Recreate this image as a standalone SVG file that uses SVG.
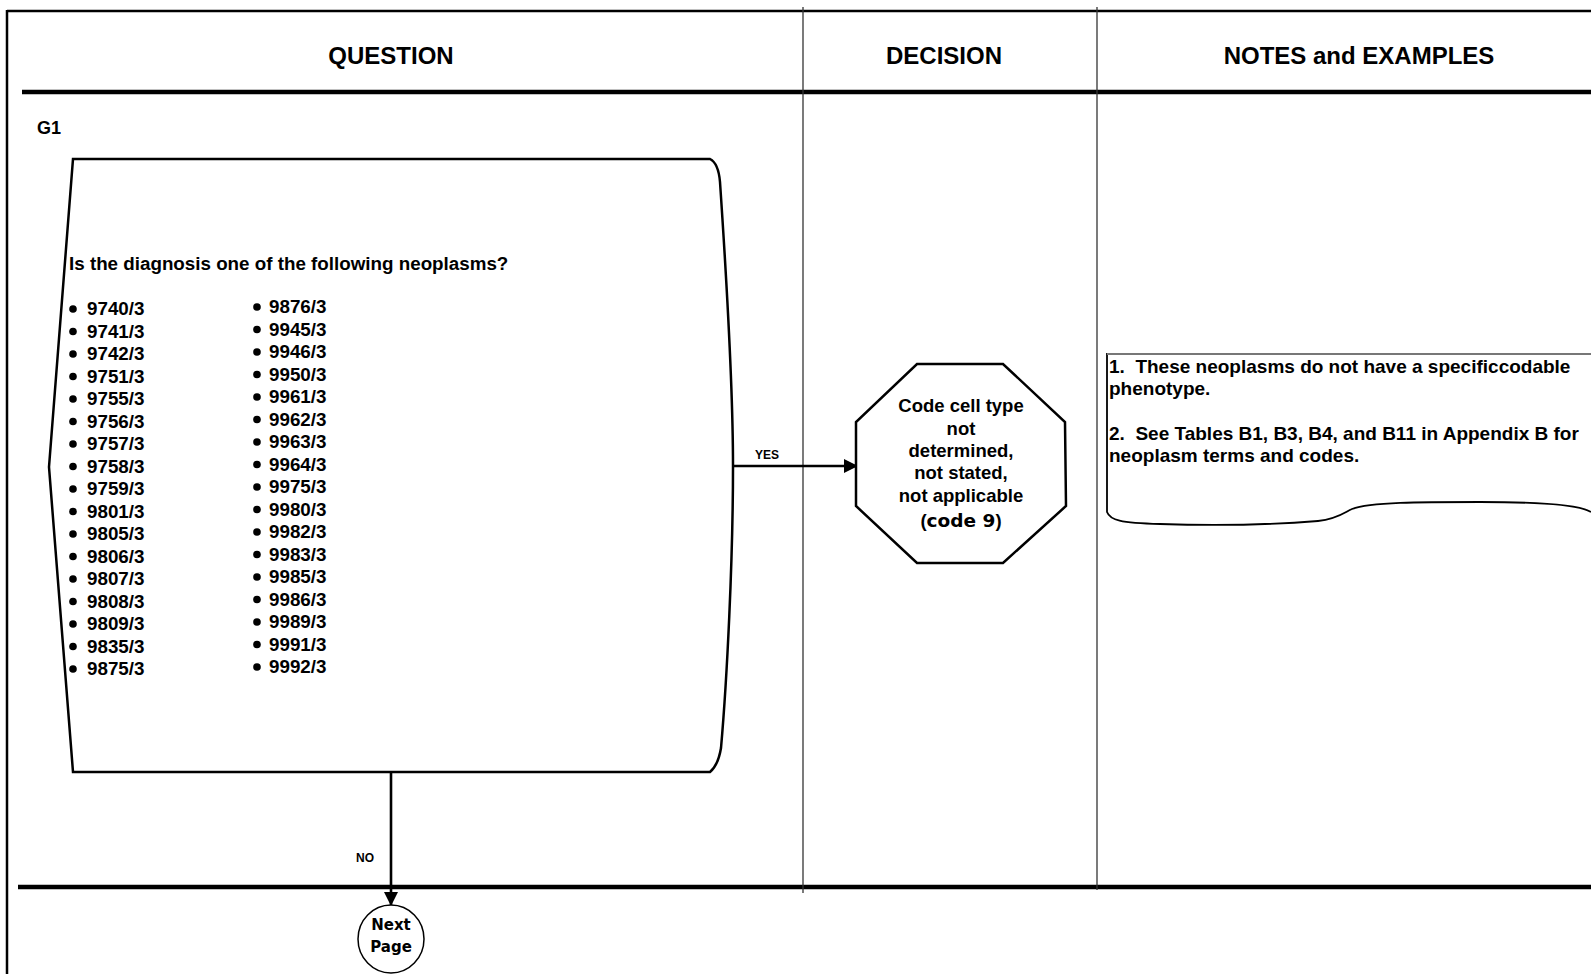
<svg xmlns="http://www.w3.org/2000/svg" width="1591" height="974" viewBox="0 0 1591 974">
<defs>
<style>
.t{font-family:"Liberation Sans",Arial,sans-serif;font-weight:bold;fill:#000}
.h{font-size:24px;text-anchor:middle}
.l{font-size:18.8px}
.o{font-size:18.5px;text-anchor:middle}
.n{font-size:19px}
.s{font-size:12px;text-anchor:middle}
.k{font-family:"DejaVu Sans",sans-serif;font-weight:bold;fill:#000}
.sh{fill:#fff;stroke:#000;stroke-width:2.5}
.div{stroke:#333;stroke-width:1.3;fill:none}
.cn{stroke:#000;stroke-width:2.6;fill:none}
</style>
<marker id="ah" viewBox="0 0 14 14" refX="14" refY="7" markerWidth="14" markerHeight="14" markerUnits="userSpaceOnUse" orient="auto">
<path d="M0,0 L14,7 L0,14 Z" fill="#000"/>
</marker>
</defs>
<rect width="1591" height="974" fill="#fff"/>
<g id="frame">
<line x1="7" y1="11" x2="1591" y2="11" stroke="#000" stroke-width="2.5"/>
<line x1="7" y1="10" x2="7" y2="974" stroke="#000" stroke-width="2.5"/>
<line x1="22" y1="92" x2="1591" y2="92" stroke="#000" stroke-width="4.5"/>
<line x1="18" y1="887" x2="1591" y2="887" stroke="#000" stroke-width="4.5"/>
<line class="div" x1="803" y1="7" x2="803" y2="893"/>
<line class="div" x1="1097" y1="7" x2="1097" y2="890"/>
<text class="t h" x="391" y="64">QUESTION</text>
<text class="t h" x="944" y="64">DECISION</text>
<text class="t h" x="1359" y="64">NOTES and EXAMPLES</text>
<text class="t" font-size="18px" x="37" y="134">G1</text>
</g>
<g id="connectors">
<line class="cn" x1="734" y1="466" x2="858" y2="466" marker-end="url(#ah)"/>
<text class="t s" x="767" y="459">YES</text>
<line class="cn" x1="391" y1="772" x2="391" y2="906" marker-end="url(#ah)"/>
<text class="t s" x="365" y="862">NO</text>
</g>
<g id="G1">
<path class="sh" d="M73,159 H710 C716,162 719,170 720,182 C728,300 733,400 733,466 C733,560 727,680 721,748 C719,760 716,767 710,772 H73 L49,467 Z"/>
<text class="t l" x="69" y="270">Is the diagnosis one of the following neoplasms?</text>
<g fill="#000">
<circle cx="73" cy="309" r="3.8"/><circle cx="73" cy="331.5" r="3.8"/><circle cx="73" cy="354" r="3.8"/><circle cx="73" cy="376.5" r="3.8"/><circle cx="73" cy="399" r="3.8"/><circle cx="73" cy="421.5" r="3.8"/><circle cx="73" cy="444" r="3.8"/><circle cx="73" cy="466.5" r="3.8"/><circle cx="73" cy="489" r="3.8"/><circle cx="73" cy="511.5" r="3.8"/><circle cx="73" cy="534" r="3.8"/><circle cx="73" cy="556.5" r="3.8"/><circle cx="73" cy="579" r="3.8"/><circle cx="73" cy="601.5" r="3.8"/><circle cx="73" cy="624" r="3.8"/><circle cx="73" cy="646.5" r="3.8"/><circle cx="73" cy="669" r="3.8"/>
<circle cx="257" cy="307" r="3.8"/><circle cx="257" cy="329.5" r="3.8"/><circle cx="257" cy="352" r="3.8"/><circle cx="257" cy="374.5" r="3.8"/><circle cx="257" cy="397" r="3.8"/><circle cx="257" cy="419.5" r="3.8"/><circle cx="257" cy="442" r="3.8"/><circle cx="257" cy="464.5" r="3.8"/><circle cx="257" cy="487" r="3.8"/><circle cx="257" cy="509.5" r="3.8"/><circle cx="257" cy="532" r="3.8"/><circle cx="257" cy="554.5" r="3.8"/><circle cx="257" cy="577" r="3.8"/><circle cx="257" cy="599.5" r="3.8"/><circle cx="257" cy="622" r="3.8"/><circle cx="257" cy="644.5" r="3.8"/><circle cx="257" cy="667" r="3.8"/>
</g>
<text class="t l" x="87">
<tspan x="87" y="315">9740/3</tspan><tspan x="87" y="337.5">9741/3</tspan><tspan x="87" y="360">9742/3</tspan><tspan x="87" y="382.5">9751/3</tspan><tspan x="87" y="405">9755/3</tspan><tspan x="87" y="427.5">9756/3</tspan><tspan x="87" y="450">9757/3</tspan><tspan x="87" y="472.5">9758/3</tspan><tspan x="87" y="495">9759/3</tspan><tspan x="87" y="517.5">9801/3</tspan><tspan x="87" y="540">9805/3</tspan><tspan x="87" y="562.5">9806/3</tspan><tspan x="87" y="585">9807/3</tspan><tspan x="87" y="607.5">9808/3</tspan><tspan x="87" y="630">9809/3</tspan><tspan x="87" y="652.5">9835/3</tspan><tspan x="87" y="675">9875/3</tspan>
</text>
<text class="t l" x="269">
<tspan x="269" y="313">9876/3</tspan><tspan x="269" y="335.5">9945/3</tspan><tspan x="269" y="358">9946/3</tspan><tspan x="269" y="380.5">9950/3</tspan><tspan x="269" y="403">9961/3</tspan><tspan x="269" y="425.5">9962/3</tspan><tspan x="269" y="448">9963/3</tspan><tspan x="269" y="470.5">9964/3</tspan><tspan x="269" y="493">9975/3</tspan><tspan x="269" y="515.5">9980/3</tspan><tspan x="269" y="538">9982/3</tspan><tspan x="269" y="560.5">9983/3</tspan><tspan x="269" y="583">9985/3</tspan><tspan x="269" y="605.5">9986/3</tspan><tspan x="269" y="628">9989/3</tspan><tspan x="269" y="650.5">9991/3</tspan><tspan x="269" y="673">9992/3</tspan>
</text>
</g>
<g id="code9">
<polygon class="sh" points="917,364 1003,364 1065,422 1066,506 1003,563 917,563 856,506 856,422"/>
<text class="t o" x="961" y="412">Code cell type</text>
<text class="t o" x="961" y="435">not</text>
<text class="t o" x="961" y="457">determined,</text>
<text class="t o" x="961" y="479">not stated,</text>
<text class="t o" x="961" y="502">not applicable</text>
<text class="t o" x="961" y="527">(<tspan class="k" font-size="18.5px">code 9</tspan>)</text>
</g>
<g id="notes">
<path d="M1591,354 H1107 V512 C1110,520 1120,523 1160,524 C1220,526 1280,524 1318,521 C1338,519 1345,512 1352,509 C1370,502 1420,502 1480,502 C1540,502 1580,505 1591,512" fill="#fff" stroke="#000" stroke-width="1.8"/>
<line x1="1107" y1="354" x2="1591" y2="354" stroke="#777" stroke-width="1.8"/>
<text class="t n" x="1109" y="373" xml:space="preserve">1.  These neoplasms do not have a specificcodable</text>
<text class="t n" x="1109" y="395">phenotype.</text>
<text class="t n" x="1109" y="440" xml:space="preserve">2.  See Tables B1, B3, B4, and B11 in Appendix B for</text>
<text class="t n" x="1109" y="462">neoplasm terms and codes.</text>
</g>
<g id="next_page">
<ellipse cx="391" cy="939" rx="33" ry="34" fill="#fff" stroke="#000" stroke-width="1.5"/>
<text class="k" font-size="15px" text-anchor="middle" x="391" y="930">Next</text>
<text class="k" font-size="15px" text-anchor="middle" x="391" y="952">Page</text>
</g>
</svg>
